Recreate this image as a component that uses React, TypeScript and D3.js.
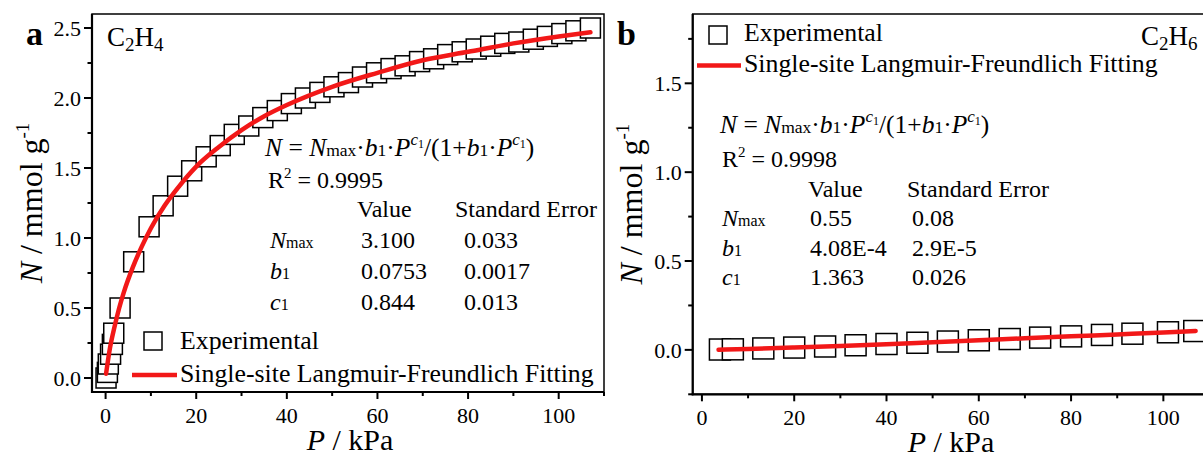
import React from "react";
import * as d3 from "d3";

const FONT = "Liberation Serif, Tinos, Times New Roman, DejaVu Serif, Noto Serif, serif";

// ---------- Panel a : C2H4 ----------
const pressureA = [0.1, 0.4, 0.6, 1.1, 1.5, 1.8, 3.2, 6.2, 9.6, 12.7, 15.9, 19.0, 22.2, 25.3, 28.4, 31.6, 34.7, 37.9, 41.0, 44.1, 47.3, 50.4, 53.6, 56.7, 59.8, 63.0, 66.1, 69.3, 72.4, 75.5, 78.7, 81.8, 85.0, 88.1, 91.2, 94.4, 97.5, 100.7, 103.8, 107.0];
const uptakeA = [0.0, 0.04, 0.10, 0.17, 0.24, 0.32, 0.50, 0.83, 1.08, 1.23, 1.37, 1.48, 1.58, 1.66, 1.74, 1.80, 1.86, 1.91, 1.96, 2.00, 2.04, 2.08, 2.11, 2.15, 2.18, 2.21, 2.23, 2.26, 2.28, 2.31, 2.33, 2.35, 2.37, 2.39, 2.40, 2.42, 2.44, 2.46, 2.48, 2.50];
const fitPressureA = [0.1, 0.5, 1, 2, 3, 4, 6, 8, 10, 13, 16, 20, 25, 30, 35, 40, 50, 60, 70, 80, 90, 100, 107];
const fitUptakeA = [0.03, 0.12, 0.22, 0.37, 0.50, 0.61, 0.79, 0.94, 1.07, 1.23, 1.36, 1.51, 1.65, 1.77, 1.87, 1.95, 2.08, 2.18, 2.27, 2.33, 2.39, 2.44, 2.47];
const yTicksA = [0, 0.5, 1.0, 1.5, 2.0, 2.5];
const yMinorA = [0.25, 0.75, 1.25, 1.75, 2.25];
const valuesA = ["3.100", "0.0753", "0.844"];
const errorsA = ["0.033", "0.0017", "0.013"];
const r2A = "0.9995";

// ---------- Panel b : C2H6 ----------
const pressureB = [3.9, 6.7, 13.3, 20.0, 26.7, 33.3, 40.0, 46.7, 53.3, 60.0, 66.7, 73.3, 80.0, 86.7, 93.3, 101.0, 106.7];
const uptakeB = [0.002, 0.003, 0.008, 0.013, 0.019, 0.026, 0.033, 0.040, 0.047, 0.054, 0.061, 0.069, 0.076, 0.084, 0.091, 0.099, 0.106];
const fitPressureB = [3.6, 10, 20, 30, 40, 50, 60, 70, 80, 90, 100, 107];
const fitUptakeB = [0.001, 0.005, 0.013, 0.022, 0.032, 0.043, 0.054, 0.065, 0.076, 0.087, 0.098, 0.106];
const yTicksB = [0, 0.5, 1.0, 1.5];
const yMinorB = [-0.25, 0.25, 0.75, 1.25, 1.75];
const valuesB = ["0.55", "4.08E-4", "1.363"];
const errorsB = ["0.08", "2.9E-5", "0.026"];
const r2B = "0.9998";

// ---------- shared ----------
const xTicks = [0, 20, 40, 60, 80, 100];
const xMinor = [10, 30, 50, 70, 90, 110];
const paramNames = [
  { main: "N", sub: "max" },
  { main: "b", sub: "1" },
  { main: "c", sub: "1" },
];
const legendLabels = ["Experimental", "Single-site Langmuir-Freundlich Fitting"];

type Seg = { t: string; size?: number; it?: boolean; shift?: number };

function Rich(props: { x: number; y: number; segs: Seg[]; size: number; anchor?: string; transform?: string; bold?: boolean }) {
  let prev = 0;
  return (
    <text
      x={props.x}
      y={props.y}
      textAnchor={props.anchor || "start"}
      transform={props.transform}
      fill="#000"
      style={{ whiteSpace: "pre", fontFamily: FONT, fontSize: props.size + "px", fontWeight: props.bold ? "bold" : "normal" }}
    >
      {props.segs.map((s, i) => {
        const sh = s.shift ?? 0;
        const dy = sh - prev;
        prev = sh;
        return (
          <tspan key={i} dy={dy} style={{ fontSize: s.size ? s.size + "px" : undefined, fontStyle: s.it ? "italic" : "normal" }}>
            {s.t}
          </tspan>
        );
      })}
    </text>
  );
}

function T(props: { x: number; y: number; size: number; anchor?: string; dy?: string; bold?: boolean; children: React.ReactNode }) {
  return (
    <text
      x={props.x}
      y={props.y}
      dy={props.dy}
      textAnchor={props.anchor || "start"}
      fill="#000"
      style={{ fontFamily: FONT, fontSize: props.size + "px", fontWeight: props.bold ? "bold" : "normal" }}
    >
      {props.children}
    </text>
  );
}

const formulaSegs: Seg[] = [
  { t: "N", it: true },
  { t: " = " },
  { t: "N", it: true },
  { t: "max", size: 17.5 },
  { t: "·" },
  { t: "b", it: true },
  { t: "1", size: 17.5 },
  { t: "·" },
  { t: "P", it: true },
  { t: "c", it: true, size: 17, shift: -11 },
  { t: "1", size: 12, shift: -8 },
  { t: "/(1+", shift: 0 },
  { t: "b", it: true },
  { t: "1", size: 17.5 },
  { t: "·" },
  { t: "P", it: true },
  { t: "c", it: true, size: 17, shift: -11 },
  { t: "1", size: 12, shift: -8 },
  { t: ")", shift: 0 },
];

type PanelCfg = {
  left: number; right: number; top: number; bottom: number;
  xDomain: [number, number]; yDomain: [number, number];
  px: number[]; ny: number[]; fx: number[]; fy: number[];
  yTicks: number[]; yMinor: number[];
  sq: number;
  letter: string; letterX: number;
  gasSub1: string; gasSub2: string; gasX: number; gasY: number;
  yLabelX: number; xLabelX: number; xLabelY: number;
  formula: { x: number; y: number };
  r2: { x: number; y: number; v: string };
  headerY: number; rowYs: number[]; labelX: number; valueX: number; valueHX: number; errX: number; errHX: number;
  values: string[]; errors: string[];
  legend: { sqX: number; sqY: number; sqS: number; textX: number; t1Y: number; lineX1: number; lineX2: number; lineY: number; t2Y: number };
};

function Panel({ c }: { c: PanelCfg }) {
  const x = d3.scaleLinear().domain(c.xDomain).range([c.left, c.right]);
  const y = d3.scaleLinear().domain(c.yDomain).range([c.bottom, c.top]);
  const pts = c.px.map((p, i) => [p, c.ny[i]] as [number, number]);
  const fit = c.fx.map((p, i) => [p, c.fy[i]] as [number, number]);
  const line = d3.line<[number, number]>().x((d) => x(d[0])).y((d) => y(d[1])).curve(d3.curveMonotoneX);
  const fmtY = d3.format(".1f");
  const red = "#f21818";
  const L = c.legend;
  return (
    <g>
      {/* frame */}
      <rect x={c.left} y={c.top} width={c.right - c.left} height={c.bottom - c.top} fill="none" stroke="#000" strokeWidth={1.5} />
      <line x1={c.left} x2={c.left} y1={c.top} y2={c.bottom + 1} stroke="#000" strokeWidth={2.2} />
      <line x1={c.left - 1} x2={c.right} y1={c.bottom} y2={c.bottom} stroke="#000" strokeWidth={2.2} />
      {/* x ticks */}
      {xTicks.map((t) => (
        <g key={"xt" + t}>
          <line x1={x(t)} x2={x(t)} y1={c.bottom} y2={c.bottom + 7} stroke="#000" strokeWidth={2} />
          <T x={x(t)} y={c.bottom + 31} size={22} anchor="middle">{t}</T>
        </g>
      ))}
      {xMinor.map((t) => (
        <line key={"xm" + t} x1={x(t)} x2={x(t)} y1={c.bottom} y2={c.bottom + 4} stroke="#000" strokeWidth={2} />
      ))}
      {/* y ticks */}
      {c.yTicks.map((t) => (
        <g key={"yt" + t}>
          <line x1={c.left - 8} x2={c.left} y1={y(t)} y2={y(t)} stroke="#000" strokeWidth={2} />
          <T x={c.left - 11} y={y(t)} dy="0.35em" size={22} anchor="end">{fmtY(t)}</T>
        </g>
      ))}
      {c.yMinor.map((t) => (
        <line key={"ym" + t} x1={c.left - 4.5} x2={c.left} y1={y(t)} y2={y(t)} stroke="#000" strokeWidth={2} />
      ))}
      {/* data squares */}
      {pts.map((d, i) => (
        <rect key={"p" + i} x={x(d[0]) - c.sq / 2} y={y(d[1]) - c.sq / 2} width={c.sq} height={c.sq} fill="#fff" stroke="#000" strokeWidth={1.5} />
      ))}
      {/* fit */}
      <path d={line(fit) || ""} fill="none" stroke={red} strokeWidth={4.5} strokeLinecap="round" />
      {/* axis titles */}
      <Rich x={c.xLabelX} y={c.xLabelY} size={30} anchor="middle" segs={[{ t: "P", it: true }, { t: " / kPa" }]} />
      <Rich
        x={0}
        y={0}
        size={32}
        anchor="middle"
        transform={`translate(${c.yLabelX},${(c.top + c.bottom) / 2}) rotate(-90)`}
        segs={[{ t: "N", it: true }, { t: " / mmol g" }, { t: "-1", size: 19, shift: -13 }]}
      />
      {/* panel letter and gas */}
      <T x={c.letterX} y={45} size={34} bold>{c.letter}</T>
      <Rich
        x={c.gasX}
        y={c.gasY}
        size={27}
        segs={[{ t: "C" }, { t: c.gasSub1, size: 19, shift: 5 }, { t: "H", shift: 0 }, { t: c.gasSub2, size: 19, shift: 5 }]}
      />
      {/* formula & table */}
      <Rich x={c.formula.x} y={c.formula.y} size={25.5} segs={formulaSegs} />
      <Rich x={c.r2.x} y={c.r2.y} size={24} segs={[{ t: "R" }, { t: "2", size: 15, shift: -10 }, { t: " = " + c.r2.v, shift: 0 }]} />
      <T x={c.valueHX} y={c.headerY} size={24}>Value</T>
      <T x={c.errHX} y={c.headerY} size={24}>Standard Error</T>
      {paramNames.map((p, i) => (
        <g key={"row" + i}>
          <Rich x={c.labelX} y={c.rowYs[i]} size={24} segs={[{ t: p.main, it: true }, { t: p.sub, size: 16 }]} />
          <T x={c.valueX} y={c.rowYs[i]} size={24}>{c.values[i]}</T>
          <T x={c.errX} y={c.rowYs[i]} size={24}>{c.errors[i]}</T>
        </g>
      ))}
      {/* legend */}
      <rect x={L.sqX} y={L.sqY} width={L.sqS} height={L.sqS} fill="#fff" stroke="#000" strokeWidth={1.5} />
      <T x={L.textX} y={L.t1Y} size={25.8}>{legendLabels[0]}</T>
      <line x1={L.lineX1} x2={L.lineX2} y1={L.lineY} y2={L.lineY} stroke={red} strokeWidth={4.5} />
      <T x={L.textX} y={L.t2Y} size={25.8}>{legendLabels[1]}</T>
    </g>
  );
}

const panelA: PanelCfg = {
  left: 92, right: 604, top: 14, bottom: 392,
  xDomain: [-3, 110], yDomain: [-0.1, 2.6],
  px: pressureA, ny: uptakeA, fx: fitPressureA, fy: fitUptakeA,
  yTicks: yTicksA, yMinor: yMinorA, sq: 20,
  letter: "a", letterX: 26,
  gasSub1: "2", gasSub2: "4", gasX: 107, gasY: 46,
  yLabelX: 42, xLabelX: 350, xLabelY: 450,
  formula: { x: 265, y: 156 },
  r2: { x: 268, y: 188, v: r2A },
  headerY: 217, rowYs: [248, 279, 310], labelX: 270, valueX: 361, valueHX: 357, errX: 464, errHX: 455,
  values: valuesA, errors: errorsA,
  legend: { sqX: 144, sqY: 332, sqS: 18, textX: 180, t1Y: 349, lineX1: 132, lineX2: 177, lineY: 375, t2Y: 382 },
};

const panelB: PanelCfg = {
  left: 692.7, right: 1209.5, top: 14, bottom: 394.3,
  xDomain: [-2, 110], yDomain: [-0.25, 1.89],
  px: pressureB, ny: uptakeB, fx: fitPressureB, fy: fitUptakeB,
  yTicks: yTicksB, yMinor: yMinorB, sq: 21,
  letter: "b", letterX: 617,
  gasSub1: "2", gasSub2: "6", gasX: 1141, gasY: 45,
  yLabelX: 642, xLabelX: 951, xLabelY: 452,
  formula: { x: 720, y: 133 },
  r2: { x: 722, y: 167, v: r2B },
  headerY: 197, rowYs: [226, 256, 285], labelX: 722, valueX: 810, valueHX: 808, errX: 912, errHX: 907,
  values: valuesB, errors: errorsB,
  legend: { sqX: 709, sqY: 26, sqS: 18, textX: 744, t1Y: 41, lineX1: 697, lineX2: 741, lineY: 65.5, t2Y: 72 },
};

export default function App() {
  return (
    <div style={{ position: "absolute", left: 0, top: 0 }}>
      <svg width={1203} height={459} style={{ display: "block", background: "#fff" }}>
        <rect x={0} y={0} width={1203} height={459} fill="#fff" />
        <Panel c={panelA} />
        <Panel c={panelB} />
      </svg>
    </div>
  );
}
